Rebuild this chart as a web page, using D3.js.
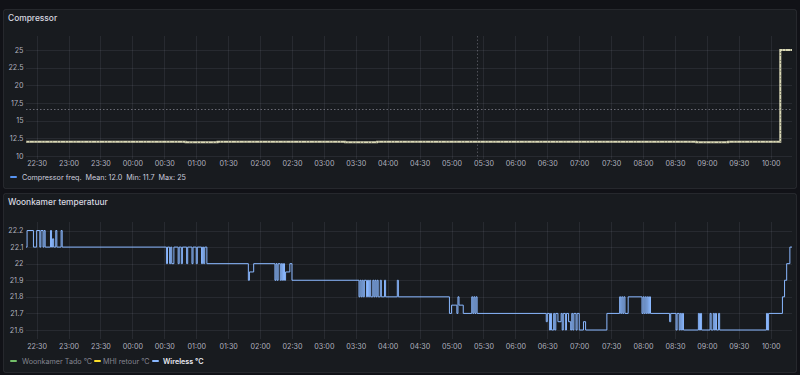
<!DOCTYPE html>
<html><head><meta charset="utf-8">
<script src="https://cdn.jsdelivr.net/npm/d3@7"></script>
<style>
html,body{margin:0;padding:0;background:#111217;}
svg{display:block;font-family:Inter,"Noto Sans",sans-serif;}
</style></head><body>
<svg id="c" width="800" height="375"></svg>
<script>
// ---------- DATA ----------
const timeDomain = ["22:20", "10:20"];
const xTickLabels = ["22:30","23:00","23:30","00:00","00:30","01:00","01:30","02:00","02:30","03:00","03:30","04:00","04:30","05:00","05:30","06:00","06:30","07:00","07:30","08:00","08:30","09:00","09:30","10:00"];

const compTitle = "Compressor";
const compYTicks = [10, 12.5, 15, 17.5, 20, 22.5, 25];
const compTimes = ["22:20","22:50","23:20","23:50","00:20","00:50","01:20","01:50","02:20","02:50","03:20","03:50","04:20","04:50","05:20","05:50","06:20","06:50","07:20","07:50","08:20","08:50","09:20","09:50","10:09","10:20"];
const compValues = [12.0,12.0,12.0,12.0,12.0,11.95,12.0,12.0,12.0,12.0,11.95,12.0,12.0,12.0,12.0,12.0,12.0,12.0,12.0,12.0,12.0,11.95,12.0,12.0,25,25];
const compThreshold = 16.7;
const compAnnotationTime = "05:24";
const compLegend = ["Compressor freq.", "Mean: 12.0", "Min: 11.7", "Max: 25"];

const tempTitle = "Woonkamer temperatuur";
const tempYTicks = [21.6, 21.7, 21.8, 21.9, 22, 22.1, 22.2];
const tempLegendNames = ["Woonkamer Tado °C", "MHI retour °C", "Wireless °C"];
const tempLegendColors = ["#73BF69", "#FADE2A", "#8AB8FF"];
const wirelessTimes = ["22:20","22:21","22:27","22:30","22:33","22:34","22:36","22:37","22:38","22:43","22:44","22:45","22:46","22:48","22:49","22:53","22:54",
"00:32","00:33","00:35","00:36","00:37","00:39","00:43","00:44","00:46","00:47","00:51","00:52","00:56","00:57","01:00","01:01","01:05","01:06","01:07","01:08","01:10",
"01:49","01:50","01:54","02:14","02:15","02:16","02:17","02:19","02:20","02:21","02:22","02:23","02:24","02:28","02:30",
"03:33","03:34","03:35","03:36","03:37","03:38","03:40","03:41","03:42","03:43","03:44","03:46","03:47","03:48","03:49","03:50","03:51","03:53","03:54","03:57","03:58","04:09","04:10",
"04:58","05:00","05:05","05:06","05:07","05:11","05:19","05:20","05:21","05:22","05:23","05:24",
"06:29","06:30","06:32","06:33","06:34","06:36","06:37","06:38","06:40","06:43","06:44","06:45","06:47","06:48","06:50","06:52","06:53","06:54","06:55","06:57","06:58","07:00","07:04","07:06","07:26",
"07:38","07:39","07:40","07:41","07:42","07:43","07:46","07:59","08:00","08:01","08:02","08:03","08:04","08:05","08:06","08:07",
"08:25","08:26","08:31","08:32","08:34","08:35","08:36","08:37","08:38","08:52","08:53","08:54","08:55","09:03","09:04","09:06","09:07","09:08","09:09","09:11","09:12",
"09:56","09:57","09:58","10:11","10:13","10:15","10:18","10:20"];
const wirelessValues = [22.1,22.2,22.1,22.2,22.1,22.2,22.1,22.2,22.1,22.2,22.1,22.15,22.1,22.2,22.1,22.2,22.1,
22.0,22.1,22.0,22.1,22.0,22.1,22.0,22.1,22.0,22.1,22.0,22.1,22.0,22.1,22.0,22.1,22.0,22.1,22.0,22.1,22.0,
21.9,21.95,22.0,21.9,22.0,21.9,22.0,21.9,22.0,21.9,22.0,21.9,21.95,22.0,21.9,
21.8,21.9,21.8,21.9,21.8,21.9,21.8,21.9,21.8,21.9,21.8,21.9,21.8,21.9,21.8,21.9,21.8,21.9,21.8,21.9,21.8,21.9,21.8,
21.7,21.75,21.7,21.8,21.75,21.7,21.8,21.7,21.8,21.7,21.8,21.7,
21.65,21.7,21.6,21.7,21.6,21.7,21.6,21.7,21.65,21.7,21.6,21.7,21.6,21.7,21.65,21.6,21.7,21.6,21.7,21.6,21.7,21.6,21.65,21.6,21.7,
21.8,21.7,21.8,21.7,21.8,21.7,21.8,21.7,21.8,21.7,21.8,21.7,21.8,21.7,21.8,21.7,
21.65,21.7,21.6,21.7,21.6,21.7,21.6,21.7,21.6,21.7,21.6,21.7,21.6,21.7,21.6,21.7,21.6,21.7,21.6,21.7,21.6,
21.7,21.6,21.7,21.8,21.9,22.0,22.1,22.1];

// ---------- HELPERS ----------
function parseT(s) {
  const [h, m] = s.split(":").map(Number);
  return new Date(2024, 0, h >= 12 ? 1 : 2, h, m);
}
const svg = d3.select("#c");
const textCol = "#ccccdc";
const gridCol = "rgba(204,204,220,0.09)";
const fontTick = 7.2;

const x = d3.scaleTime().domain(timeDomain.map(parseT)).range([26, 792]);

function panel(y0, y1, title) {
  svg.append("rect").attr("x", 3.5).attr("y", y0 + 0.5).attr("width", 793).attr("height", y1 - y0)
    .attr("rx", 2).attr("fill", "#181b1f").attr("stroke", "rgba(204,204,220,0.1)");
  svg.append("text").attr("x", 8).attr("y", y0 + 12).attr("fill", "#d8d9e0")
    .attr("font-size", 8.4).attr("font-weight", 500).text(title);
}

function grid(y, ticks, top, bottom) {
  const g = svg.append("g");
  g.selectAll(".h").data(ticks).join("line")
    .attr("x1", 26).attr("x2", 792)
    .attr("y1", d => Math.round(y(d)) + 0.5).attr("y2", d => Math.round(y(d)) + 0.5)
    .attr("stroke", gridCol);
  g.selectAll(".v").data(xTickLabels.map(parseT)).join("line")
    .attr("x1", d => Math.round(x(d)) + 0.5).attr("x2", d => Math.round(x(d)) + 0.5)
    .attr("y1", top).attr("y2", bottom).attr("stroke", gridCol);
  g.selectAll(".yl").data(ticks).join("text")
    .attr("x", 23.5).attr("y", d => y(d)).attr("dy", "0.35em")
    .attr("text-anchor", "end").attr("fill", textCol).attr("fill-opacity", 0.85)
    .attr("font-size", fontTick).text(d => d3.format("")(d));
}

function xAxis(yPos) {
  const ax = d3.axisBottom(x).tickValues(xTickLabels.map(parseT))
    .tickFormat(d3.timeFormat("%H:%M")).tickSize(0).tickPadding(0);
  const g = svg.append("g").attr("transform", `translate(0,${yPos})`).call(ax);
  g.select(".domain").remove();
  g.selectAll("text").attr("fill", textCol).attr("fill-opacity", 0.85)
    .attr("font-size", fontTick).attr("font-family", "Inter, sans-serif");
}

// ---------- TOP PANEL ----------
panel(9, 188, compTitle);
const yC = d3.scaleLinear().domain([10, 25]).range([156, 50]);
grid(yC, compYTicks, 36, 159);
xAxis(161);

svg.append("line").attr("x1", 26).attr("x2", 792)
  .attr("y1", Math.round(yC(compThreshold)) + 0.5).attr("y2", Math.round(yC(compThreshold)) + 0.5)
  .attr("stroke", "rgba(204,204,220,0.45)").attr("stroke-dasharray", "1.5,2");
const annX = Math.round(x(parseT(compAnnotationTime))) + 0.5;
svg.append("line").attr("x1", annX).attr("x2", annX)
  .attr("y1", 36).attr("y2", 159)
  .attr("stroke", "rgba(204,204,220,0.3)").attr("stroke-dasharray", "1.5,2");

const compData = compTimes.map((t, i) => ({ t: parseT(t), v: compValues[i] }));
const lineC = d3.line().x(d => x(d.t)).y(d => yC(d.v)).curve(d3.curveStepAfter);
svg.append("path").datum(compData).attr("d", lineC).attr("fill", "none")
  .attr("stroke", "#d9d8b6").attr("stroke-width", 2);
svg.append("path").datum(compData).attr("d", lineC).attr("fill", "none")
  .attr("stroke", "#45463a").attr("stroke-width", 0.9).attr("stroke-dasharray", "0.7,2.3,0.7,4.1");

// legend top
const lgT = svg.append("g").attr("transform", "translate(0,177)");
lgT.append("rect").attr("x", 10).attr("y", -1).attr("width", 7).attr("height", 2).attr("rx", 1).attr("fill", "#5794F2");
const lgTxt = lgT.append("text").attr("x", 22).attr("y", 0).attr("dy", "0.35em")
  .attr("fill", textCol).attr("font-size", 7.2);
compLegend.forEach((s, i) => {
  lgTxt.append("tspan").attr("dx", i === 0 ? 0 : 3.9).text(s);
});

// ---------- BOTTOM PANEL ----------
panel(193, 372, tempTitle);
const yT = d3.scaleLinear().domain([21.6, 22.2]).range([330, 230.5]);
grid(yT, tempYTicks, 222, 339);
xAxis(344);

const wData = wirelessTimes.map((t, i) => ({ t: parseT(t), v: wirelessValues[i] }));
const lineW = d3.line().x(d => x(d.t)).y(d => yT(d.v)).curve(d3.curveStepAfter);
svg.append("path").datum(wData).attr("d", lineW).attr("fill", "none")
  .attr("stroke", "#8AB8FF").attr("stroke-width", 1);

// legend bottom
const lgB = svg.append("g").attr("transform", "translate(0,361)");
const legendDashX = [10, 94, 152];
const legendTextX = [22, 103, 163];
tempLegendNames.forEach((n, i) => {
  lgB.append("rect").attr("x", legendDashX[i]).attr("y", -1).attr("width", 7).attr("height", 2).attr("rx", 1)
    .attr("fill", tempLegendColors[i]);
  lgB.append("text").attr("x", legendTextX[i]).attr("y", 0).attr("dy", "0.35em")
    .attr("fill", i === 2 ? "#e8e8f0" : textCol).attr("fill-opacity", i === 2 ? 1 : 0.6)
    .attr("font-weight", i === 2 ? 600 : 400)
    .attr("font-size", 7.2).text(n);
});
</script>
</body></html>
